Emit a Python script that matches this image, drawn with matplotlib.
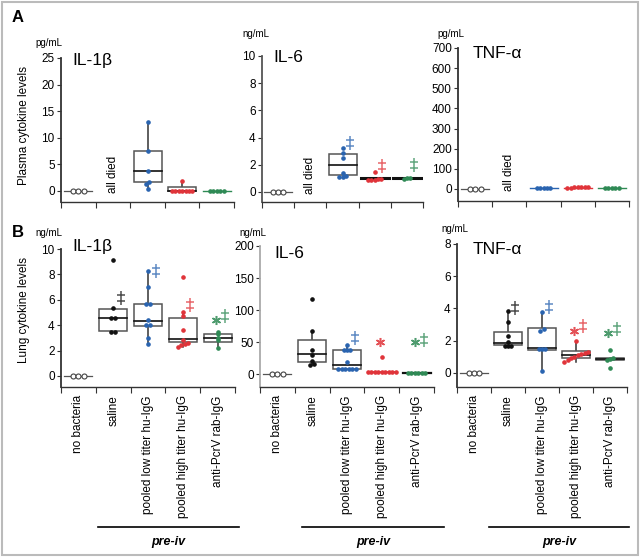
import numpy as np
import matplotlib
matplotlib.use("Agg")
import matplotlib.pyplot as plt
from matplotlib.patches import Rectangle
from matplotlib.lines import Line2D
from matplotlib.path import Path

plt.rcParams['font.family'] = ['Liberation Sans', 'DejaVu Sans']

groups = ['no bacteria', 'saline', 'pooled low titer hu-IgG',
          'pooled high titer hu-IgG', 'anti-PcrV rab-IgG']
colors = ['#555555', '#111111', '#2a64b0', '#e0343a', '#2f8a55']

# ---- A: plasma ----
a_il1b_box = [(0, 0, 0), None, (1.7, 3.8, 7.5, 0.4, 13.0), (0, 0, 0.75, 0, 1.9), (0, 0, 0)]
a_il1b_pts = [[0, 0, 0], [], [13.0, 7.6, 3.8, 1.7, 1.4, 0.4], [0] * 7 + [1.9], [0] * 5]
a_il1b_dag = [None] * 5
a_il1b_star = [None] * 5

a_il6_box = [(0, 0, 0), None, (1.25, 2.0, 2.8), (1.0, 1.0, 1.0), (1.0, 1.0, 1.0)]
a_il6_pts = [[0, 0, 0], [], [3.2, 2.85, 2.5, 1.4, 1.15, 1.1, 1.1],
             [1.5, 0.95, 0.9, 0.9, 0.95, 0.9], [1.0, 0.95, 1.0]]
a_il6_dag = [None, None, 3.6, 1.9, 2.0]
a_il6_star = [None] * 5

a_tnf_box = [(0, 0, 0), None, (5, 5, 5), (7, 7, 7), (6, 6, 6)]
a_tnf_pts = [[0, 0, 0], [], [5] * 5, [8, 11, 6, 12, 7, 10, 8], [6] * 5]
a_tnf_dag = [None] * 5
a_tnf_star = [None] * 5

# ---- B: lung ----
b_il1b_box = [(0, 0, 0), (3.55, 4.6, 5.3), (3.9, 4.35, 5.65, 2.5, 8.25),
              (2.7, 2.95, 4.6, 2.3, 5.0), (2.7, 3.0, 3.3, 2.2, 3.45)]
b_il1b_pts = [[0, 0, 0], [9.1, 5.35, 4.6, 4.6, 3.45, 3.45],
              [8.25, 7.0, 5.65, 5.65, 4.4, 4.0, 4.0, 3.0, 2.5],
              [7.8, 5.0, 4.7, 3.6, 2.8, 2.6, 2.5, 2.4, 2.3],
              [3.45, 3.3, 3.0, 2.8, 2.2]]
b_il1b_dag = [None, 6.15, 8.25, 5.6, 4.75]
b_il1b_star = [None, None, None, None, 4.4]

b_il6_box = [(0, 0, 0), (19, 31, 53, 14, 67), (8, 14, 37, 8, 46), (3, 3, 3), (2, 2, 2)]
b_il6_pts = [[0, 0, 0], [117, 67, 37, 30, 20, 16, 14],
             [46, 37, 37, 37, 18, 8, 8, 8, 8, 8, 8],
             [27] + [3] * 9, [2] * 6]
b_il6_dag = [None, None, 57, None, 53]
b_il6_star = [None, None, None, 50, 50]

b_tnf_box = [(0, 0, 0), (1.75, 1.85, 2.55, 1.65, 3.85), (1.45, 1.55, 2.8, 0.15, 3.8),
             (0.9, 1.1, 1.35, 0.65, 2.0), (0.83, 0.87, 0.92)]
b_tnf_pts = [[0, 0, 0], [3.85, 3.15, 2.3, 1.9, 1.7, 1.65, 1.7],
             [3.8, 2.7, 2.6, 1.5, 1.5, 1.5, 0.15],
             [2.0, 1.3, 1.25, 1.2, 1.1, 1.0, 0.9, 0.8, 0.7],
             [1.4, 0.95, 0.85, 0.8, 0.3]]
b_tnf_dag = [None, 4.0, 4.1, 2.9, 2.7]
b_tnf_star = [None, None, None, 2.6, 2.45]

W, H = 640, 557
fig = plt.figure(figsize=(W / 100, H / 100), dpi=100)

# double-dagger marker: vertical bar with two cross bars
dag_marker = Path([(0, -1), (0, 1), (-0.6, 0.45), (0.6, 0.45), (-0.6, -0.4), (0.6, -0.4)],
                  [Path.MOVETO, Path.LINETO, Path.MOVETO, Path.LINETO, Path.MOVETO, Path.LINETO])


def fx(x):
    return x / W


def fy(y):
    return 1 - y / H


def spread(vals, tol, step):
    vals = np.asarray(vals, float)
    offs = np.zeros(len(vals))
    order = np.argsort(vals)
    clusters, cur = [], [order[0]]
    for k in order[1:]:
        if abs(vals[k] - vals[cur[-1]]) <= tol:
            cur.append(k)
        else:
            clusters.append(cur)
            cur = [k]
    clusters.append(cur)
    for c in clusters:
        n = len(c)
        for j, k in enumerate(c):
            offs[k] = (j - (n - 1) / 2) * step
    return offs


def panel(rect, ylim, yticks, box, pts, dag, star, died, flat, labels, spine='#333333'):
    l, t, r, b = rect
    ax = fig.add_axes([fx(l), fy(b), fx(r - l), (b - t) / H])
    ax.set_xlim(-0.5, 4.5)
    ax.set_ylim(*ylim)
    for s in ['top', 'right']:
        ax.spines[s].set_visible(False)
    ax.spines['bottom'].set_color('#333333')
    ax.spines['bottom'].set_linewidth(1.0)
    ax.spines['left'].set_color(spine)
    ax.spines['left'].set_linewidth(1.3)
    ax.set_yticks(yticks)
    ax.tick_params(axis='y', direction='out', length=3, width=0.8, labelsize=8.5,
                   pad=1.5, color='#333333')
    ax.set_xticks(np.arange(5))
    ax.set_xticks(np.arange(-0.5, 5, 1), minor=True)
    ax.tick_params(axis='x', which='major', length=0, pad=6)
    ax.tick_params(axis='x', which='minor', length=4, width=0.8, direction='out', color='#333333')
    if labels:
        ax.set_xticklabels(groups, rotation=90, va='top', fontsize=8.5)
    else:
        ax.set_xticklabels([])
    catpx = (r - l) / 5
    bw = 28 / catpx
    span = ylim[1] - ylim[0]
    for i in range(5):
        c = colors[i]
        st = box[i]
        if st is not None:
            q1, med, q3 = st[:3]
            if q3 - q1 > 0:
                if len(st) > 3:
                    ax.plot([i, i], [st[3], q1], color='#333333', lw=1.1, zorder=2)
                    ax.plot([i, i], [q3, st[4]], color='#333333', lw=1.1, zorder=2)
                ax.add_patch(Rectangle((i - bw / 2, q1), bw, q3 - q1, fill=True, fc='white',
                                       ec='#555555', lw=1.1, zorder=2))
                ax.plot([i - bw / 2, i + bw / 2], [med, med], color='#111111', lw=1.2, zorder=3)
            else:
                fc, flw = flat[i]
                ax.plot([i - bw / 2, i + bw / 2], [med, med], color=fc, lw=flw, zorder=2)
        if pts[i]:
            step = 0.16 if i == 0 else 0.1
            offs = spread(pts[i], span * 0.012, step)
            if i == 0:
                ax.plot(i + offs, pts[i], 'o', ms=3.6, mfc='white', mec='#444444', mew=0.8,
                        ls='none', zorder=4)
            else:
                ax.plot(i + offs, pts[i], 'o', ms=2.3, color=c, ls='none', zorder=4)
        if dag[i] is not None:
            ax.plot(i + 0.22, dag[i], marker=dag_marker, ms=10, mew=1.1, color=c,
                    ls='none', alpha=0.75, zorder=5)
        if star[i] is not None:
            ax.plot(i - 0.05, star[i], marker=(6, 2, 0), ms=6.5, color=c, mew=1.1,
                    ls='none', alpha=0.85, zorder=5)
    if died:
        ax.text(1, 0 - span * 0.012, 'all died', rotation=90, ha='center', va='bottom',
                fontsize=8.5)
    return ax


flat_a1 = [('#555555', 0.9), None, None, ('#e0343a', 1.0), ('#2f8a55', 1.0)]
flat_a2 = [('#555555', 0.9), None, None, ('#111111', 2.2), ('#111111', 2.2)]
flat_a3 = [('#555555', 0.9), None, ('#2a64b0', 1.0), ('#e0343a', 1.0), ('#2f8a55', 1.0)]
flat_b2 = [('#555555', 0.9), None, None, ('#e0343a', 1.2), ('#111111', 1.6)]
flat_b3 = [('#555555', 0.9), None, None, None, ('#555555', 2.5)]
flat_b1 = [('#555555', 0.9), None, None, None, None]

panel((61, 58, 234, 202), (-2.07, 25), np.arange(0, 26, 5),
      a_il1b_box, a_il1b_pts, a_il1b_dag, a_il1b_star, True, flat_a1, False)
panel((262, 56, 423, 202), (-0.74, 10), np.arange(0, 11, 2),
      a_il6_box, a_il6_pts, a_il6_dag, a_il6_star, True, flat_a2, False, spine='#555555')
panel((458, 48, 629, 201), (-59.6, 700), np.arange(0, 701, 100),
      a_tnf_box, a_tnf_pts, a_tnf_dag, a_tnf_star, True, flat_a3, False)
panel((61, 249, 235, 387), (-0.87, 10), np.arange(0, 11, 2),
      b_il1b_box, b_il1b_pts, b_il1b_dag, b_il1b_star, False, flat_b1, True)
panel((260, 246, 434, 387), (-20.3, 200), np.arange(0, 201, 50),
      b_il6_box, b_il6_pts, b_il6_dag, b_il6_star, False, flat_b2, True, spine='#aaaaaa')
panel((457, 244, 627, 387), (-0.87, 8), np.arange(0, 9, 2),
      b_tnf_box, b_tnf_pts, b_tnf_dag, b_tnf_star, False, flat_b3, True)

# titles, units, letters
titles = [('IL-1\u03b2', 72, 60), ('IL-6', 273, 57), ('TNF-\u03b1', 473, 53),
          ('IL-1\u03b2', 72, 247), ('IL-6', 274, 253), ('TNF-\u03b1', 473, 250)]
for s, x, y in titles:
    fig.text(fx(x), fy(y), s, fontsize=12.5, ha='left', va='center')
units = [('pg/mL', 35, 43), ('ng/mL', 242, 34), ('pg/mL', 437, 34),
         ('ng/mL', 35, 233), ('ng/mL', 239, 233), ('ng/mL', 441, 229)]
for s, x, y in units:
    fig.text(fx(x), fy(y), s, fontsize=7, ha='left', va='center')
fig.text(fx(12), fy(18), 'A', fontsize=12, fontweight='bold', ha='left', va='center')
fig.text(fx(12), fy(233), 'B', fontsize=12, fontweight='bold', ha='left', va='center')
fig.text(fx(24), fy(125), 'Plasma cytokine levels', rotation=90, fontsize=8.5,
         ha='center', va='center')
fig.text(fx(24), fy(310), 'Lung cytokine levels', rotation=90, fontsize=8.5,
         ha='center', va='center')

# pre-iv brackets
for x0, x1 in [(98, 239), (302, 444), (489, 629)]:
    fig.add_artist(Line2D([fx(x0), fx(x1)], [fy(527), fy(527)], color='black', lw=1.2))
    fig.text(fx((x0 + x1) / 2), fy(542), 'pre-iv', fontsize=9, fontweight='bold',
             fontstyle='italic', ha='center', va='center')

fig.add_artist(Rectangle((fx(1.5), fy(555)), fx(636), (553) / H, fill=False,
                         ec='#bbbbbb', lw=1.5, transform=fig.transFigure))

fig.savefig('out.png', dpi=100)
